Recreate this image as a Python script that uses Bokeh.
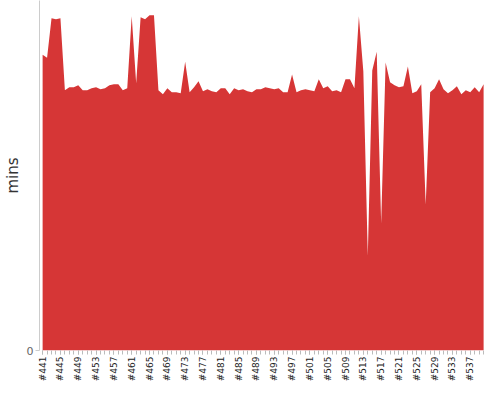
import math
from bokeh.plotting import figure
from bokeh.models import Range1d, FixedTicker, ColumnDataSource
from bokeh.embed import file_html
from bokeh.resources import INLINE

# build numbers (categories)
builds = list(range(441, 541))

# build duration in minutes
mins = [30.0, 29.7, 33.7, 33.6, 33.7, 26.4, 26.7, 26.7, 26.9, 26.4,
        26.4, 26.6, 26.7, 26.5, 26.6, 26.9, 27.0, 27.0, 26.4, 26.6,
        33.9, 27.1, 33.8, 33.6, 34.0, 34.0, 26.4, 26.0, 26.6, 26.2,
        26.2, 26.1, 29.3, 26.2, 26.7, 27.3, 26.3, 26.5, 26.3, 26.2,
        26.6, 26.6, 26.0, 26.6, 26.4, 26.5, 26.3, 26.2, 26.5, 26.5,
        26.7, 26.6, 26.5, 26.6, 26.2, 26.2, 28.0, 26.2, 26.4, 26.5,
        26.4, 26.3, 27.5, 26.6, 26.8, 26.3, 26.4, 26.2, 27.5, 27.5,
        26.6, 33.9, 28.3, 9.6, 28.4, 30.3, 12.9, 29.2, 27.2, 26.9,
        26.7, 26.8, 28.8, 26.1, 26.3, 27.0, 14.8, 26.2, 26.6, 27.5,
        26.5, 26.1, 26.4, 26.8, 26.0, 26.4, 26.2, 26.7, 26.2, 27.0]

y_ticks = [0]
label_every = 4

idx = list(range(len(builds)))
source = ColumnDataSource(dict(x=idx, y=mins))

p = figure(width=484, height=384, output_backend="svg", toolbar_location=None,
           x_range=Range1d(-0.7, len(builds) - 1 + 0.2), y_range=Range1d(0, 35.5),
           min_border_left=0, min_border_right=0, min_border_top=0, min_border_bottom=0)

p.varea(x="x", y1=0, y2="y", source=source, fill_color="#d63636")

p.xgrid.visible = False
p.ygrid.visible = False
p.outline_line_color = None
p.background_fill_color = "white"

font = "DejaVu Sans"

xa = p.xaxis[0]
xa.ticker = FixedTicker(ticks=[i for i in idx if i % label_every == 0], minor_ticks=idx)
xa.major_label_overrides = {i: f"#{b}" for i, b in zip(idx, builds) if i % label_every == 0}
xa.major_label_orientation = math.pi / 2
xa.major_label_text_font = font
xa.major_label_text_font_size = "9px"
xa.major_label_text_color = "#222222"
xa.major_label_standoff = 2
xa.axis_line_color = None
xa.major_tick_line_color = "#bbbbbb"
xa.minor_tick_line_color = "#bbbbbb"
xa.major_tick_in = 0
xa.major_tick_out = 4
xa.minor_tick_in = 0
xa.minor_tick_out = 4

ya = p.yaxis[0]
ya.ticker = FixedTicker(ticks=y_ticks)
ya.axis_label = "mins"
ya.axis_label_text_font = font
ya.axis_label_text_font_size = "15px"
ya.axis_label_text_font_style = "normal"
ya.axis_label_text_color = "#333333"
ya.axis_label_standoff = 2
ya.major_label_text_font = font
ya.major_label_text_font_size = "11px"
ya.major_label_text_color = "#666666"
ya.major_label_standoff = 2
ya.axis_line_color = "#cccccc"
ya.major_tick_line_color = "#cccccc"
ya.major_tick_in = 0
ya.major_tick_out = 4
ya.minor_tick_line_color = None

open("out.html", "w").write(file_html(p, INLINE))
